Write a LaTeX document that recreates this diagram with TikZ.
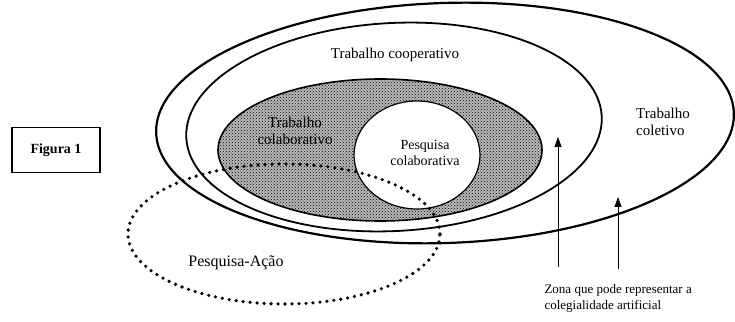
\documentclass[tikz,border=0pt]{standalone}
\usepackage{fontspec}
\setmainfont{Liberation Serif}
\usetikzlibrary{arrows.meta,patterns}

\begin{document}
\begin{tikzpicture}[x=1pt, y=1pt,
    ring/.style={line width=2.2pt},
    dotring/.style={line width=3.6pt, line cap=round, dash pattern=on 0pt off 7pt},
    zonearrow/.style={line width=0.8pt, -{Triangle[length=10pt,width=7pt]}},
    ringtext/.style={font=\fontsize{15}{17}\selectfont, align=center}]
    \useasboundingbox (0,0) rectangle (735,321);

    % --- 1. Trabalho coletivo / cooperativo (outer rings) ---
    \coordinate (coletivo) at (445,198);
    \coordinate (cooperativo) at (394,194);
    \draw[ring, rotate around={2:(coletivo)}] (coletivo) ellipse (289 and 120);
    \draw[ring, line width=1.8pt, rotate around={3:(cooperativo)}] (cooperativo) ellipse (208 and 104);
    \node[ringtext] (tcoop) at (395,266) {Trabalho cooperativo};
    \node[ringtext, align=left] (tcolet) at (663,199) {Trabalho\\coletivo};

    % --- 2. Trabalho colaborativo (speckled ring) ---
    \coordinate (colab) at (380,171);
    \fill[gray!55] (colab) ellipse (162 and 71);
    \fill[pattern=crosshatch dots, pattern color=black] (colab) ellipse (162 and 71);
    \draw[line width=1.6pt] (colab) ellipse (162 and 71);
    \node[ringtext] (tcolab) at (295,190) {Trabalho\\colaborativo};

    % --- 3. Pesquisa colaborativa (white core) ---
    \coordinate (pcolab) at (417,166);
    \filldraw[fill=white, line width=1.2pt] (pcolab) ellipse (63 and 54);
    \node[ringtext, font=\fontsize{14}{16}\selectfont] (tpcolab) at (425,168) {Pesquisa\\colaborativa};

    % --- 4. Pesquisa-Acao (dotted) ---
    \coordinate (acao) at (284,87);
    \draw[dotring] (acao) ellipse (156 and 70);
    \node[font=\fontsize{16}{18}\selectfont] (tacao) at (236,58) {Pesquisa-Ação};

    % --- 5. Zona / colegialidade artificial ---
    \node[font=\fontsize{13}{15.5}\selectfont, align=left, anchor=north west] (zona) at (541,40)
        {Zona que pode representar a\\colegialidade artificial};
    \coordinate (z1) at (558,54);
    \coordinate (z1top) at (558,184);
    \coordinate (z2) at (618,52);
    \coordinate (z2top) at (618,124);
    \draw[zonearrow] (z1) -- (z1top);
    \draw[zonearrow] (z2) -- (z2top);

    % --- 6. Figura box ---
    \node[draw, line width=1.2pt, minimum width=88pt, minimum height=45pt,
        font=\bfseries\fontsize{14}{16}\selectfont] (fig) at (56,171) {Figura 1};
\end{tikzpicture}
\end{document}
